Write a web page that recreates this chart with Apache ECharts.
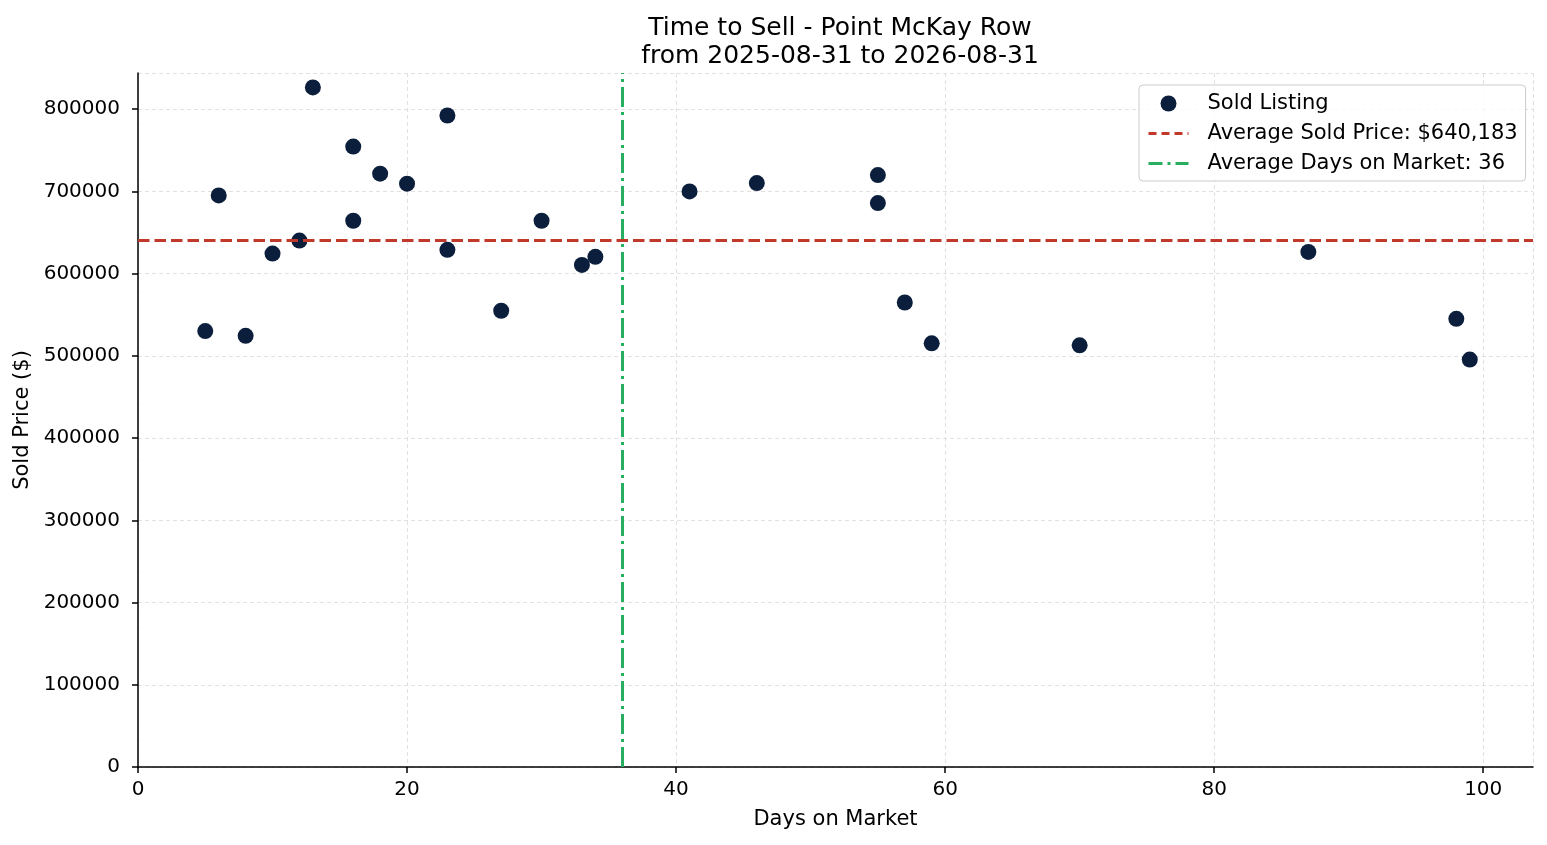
<!DOCTYPE html>
<html>
<head>
<meta charset="utf-8">
<title>Time to Sell - Point McKay Row</title>
<script src="https://cdn.jsdelivr.net/npm/echarts@6.0.0/dist/echarts.min.js"></script>
<style>
  html, body { margin: 0; padding: 0; background: #fff; }
  #chart { width: 1547px; height: 845px; }
</style>
</head>
<body>
<div id="chart"></div>
<script>
// sold listings: days on market and sold price
var daysOnMarket = [5, 6, 8, 10, 12, 13, 16, 16, 18, 20, 23, 23, 27, 30, 33, 34,
                    41, 46, 55, 55, 57, 59, 70, 87, 98, 99];
var soldPrice = [530100, 695100, 524400, 624400, 640200, 826500, 754500, 664300,
                 721600, 709400, 792300, 628900, 554900, 664300, 610600, 620400,
                 700000, 710100, 719900, 685800, 564900, 515200, 512800, 626400,
                 545000, 495500];
var avgPrice = 640183;
var avgDays = 36;
var titleLines = ['Time to Sell - Point McKay Row', 'from 2025-08-31 to 2026-08-31'];
var seriesNames = ['Sold Listing', 'Average Sold Price: $640,183', 'Average Days on Market: 36'];

var points = daysOnMarket.map(function (d, i) { return [d, soldPrice[i]]; });

var font = 'DejaVu Sans';
var ink = '#000';
var navy = '#0b1f3d';
var red = '#c0392b';
var green = '#27ae60';
var redDash = [11.5, 5];
var greenDashDot = [20, 5, 3, 5];

var chart = echarts.init(document.getElementById('chart'));

var option = {
    backgroundColor: '#fff',
    animation: false,
    textStyle: { fontFamily: font },
    title: {
        text: titleLines.join('\n'),
        left: 835,
        textAlign: 'center',
        top: 9,
        textStyle: { fontFamily: font, fontSize: 25, fontWeight: 'normal', color: ink, lineHeight: 28 }
    },
    grid: { left: 138, right: 14, top: 73, bottom: 78, containLabel: false },
    legend: {
        orient: 'vertical',
        left: 1139,
        top: 85,
        padding: [8, 8, 7, 8],
        itemGap: 9,
        itemWidth: 40,
        itemHeight: 16,
        backgroundColor: 'rgba(255,255,255,0.8)',
        borderColor: '#cccccc',
        borderWidth: 1,
        borderRadius: 4,
        textStyle: { fontFamily: font, fontSize: 21, color: ink, padding: [0, 0, 0, 14] },
        data: [
            { name: seriesNames[0], icon: 'circle' },
            { name: seriesNames[1], itemStyle: { opacity: 0 },
              lineStyle: { color: red, width: 3, type: [8, 5] } },
            { name: seriesNames[2], itemStyle: { opacity: 0 },
              lineStyle: { color: green, width: 3, type: [14, 5, 3, 5] } }
        ]
    },
    xAxis: {
        type: 'value',
        min: 0,
        max: 103.7,
        interval: 20,
        name: 'Days on Market',
        nameLocation: 'middle',
        nameGap: 42,
        nameTextStyle: { fontFamily: font, fontSize: 21, color: ink },
        axisLine: { show: true, onZero: false, lineStyle: { color: ink, width: 1.5 } },
        axisTick: { show: true, length: 6, lineStyle: { color: ink, width: 1.5 } },
        axisLabel: { fontFamily: font, fontSize: 20, color: ink, margin: 13, showMaxLabel: false },
        splitLine: { show: true, lineStyle: { color: '#d9d9d9', width: 0.8, type: [4, 3] } }
    },
    yAxis: {
        type: 'value',
        min: 0,
        max: 844000,
        interval: 100000,
        name: 'Sold Price ($)',
        nameLocation: 'middle',
        nameGap: 104,
        nameTextStyle: { fontFamily: font, fontSize: 21, color: ink },
        axisLine: { show: true, onZero: false, lineStyle: { color: ink, width: 1.5 } },
        axisTick: { show: true, length: 6, lineStyle: { color: ink, width: 1.5 } },
        axisLabel: {
            fontFamily: font, fontSize: 20, color: ink, margin: 18, showMaxLabel: false,
            formatter: function (v) { return String(v); }
        },
        splitLine: { show: true, lineStyle: { color: '#d9d9d9', width: 0.8, type: [4, 3] } }
    },
    series: [
        {
            name: seriesNames[0],
            type: 'scatter',
            z: 2,
            symbolSize: 16,
            itemStyle: { color: navy, opacity: 1 },
            data: points
        },
        {
            name: seriesNames[1],
            type: 'line',
            z: 3,
            symbol: 'none',
            data: [],
            itemStyle: { color: red },
            lineStyle: { color: red, width: 3, type: redDash },
            markLine: {
                silent: true,
                symbol: ['none', 'none'],
                label: { show: false },
                lineStyle: { color: red, width: 3, type: redDash },
                data: [{ yAxis: avgPrice }]
            }
        },
        {
            name: seriesNames[2],
            type: 'line',
            z: 3,
            symbol: 'none',
            data: [],
            itemStyle: { color: green },
            lineStyle: { color: green, width: 3, type: greenDashDot },
            markLine: {
                silent: true,
                symbol: ['none', 'none'],
                label: { show: false },
                lineStyle: { color: green, width: 3, type: greenDashDot },
                data: [{ xAxis: avgDays }]
            }
        }
    ]
};

chart.setOption(option);
</script>
</body>
</html>
